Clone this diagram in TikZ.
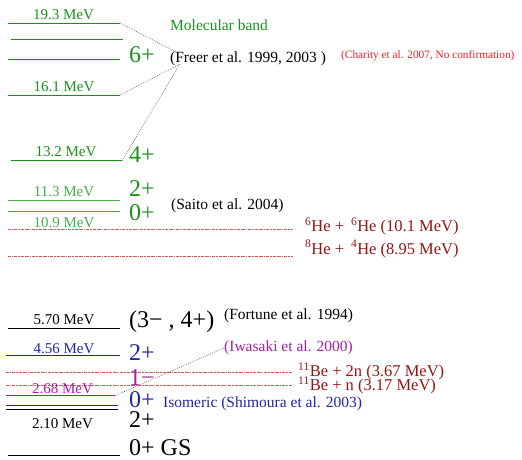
\documentclass[tikz,border=0pt]{standalone}
\usepackage{fontspec}
\setmainfont{Liberation Serif}
\definecolor{gcol}{RGB}{25,145,25}
\definecolor{lgcol}{RGB}{70,175,70}
\definecolor{rline}{RGB}{200,90,90}
\definecolor{rtext}{RGB}{150,20,20}
\definecolor{bred}{RGB}{240,30,30}
\definecolor{bcol}{RGB}{35,35,165}
\definecolor{pcol}{RGB}{165,30,165}
\definecolor{ccol}{RGB}{90,90,90}
\tikzset{
  lvl/.style={line width=1pt},
  mev/.style={font=\fontsize{15}{17}\selectfont, anchor=base, inner sep=0pt},
  spin/.style={font=\fontsize{24}{28}\selectfont, anchor=base west, inner sep=0pt},
  reftxt/.style={font=\fontsize{15.5}{18}\selectfont, anchor=base west, inner sep=0pt},
  react/.style={font=\fontsize{16.5}{19}\selectfont, anchor=base west, inner sep=0pt, text=rtext},
  thr/.style={draw=rline, line width=0.9pt, dash pattern=on 1.5pt off 0.8pt on 0.5pt off 0.8pt},
  conn/.style={draw=ccol, line width=0.6pt, dash pattern=on 0.8pt off 1.2pt}
}
\begin{document}
\begin{tikzpicture}[x=1pt,y=-1pt]
\useasboundingbox (0,0) rectangle (522,459);
% ---- upper band ----
\draw[lvl,gcol] (8,23) coordinate (a1) -- (120,23) coordinate (a2);
\draw[lvl,gcol] (11,39) coordinate (b1) -- (123,39) coordinate (b2);
\draw[lvl,gcol] (8,59) coordinate (c1) -- (120,59) coordinate (c2);
\draw[lvl,gcol] (8,95) coordinate (d1) -- (120,95) coordinate (d2);
\draw[lvl,gcol] (11,160.7) coordinate (e1) -- (122,160.7) coordinate (e2);
\draw[lvl,lgcol] (8,200.7) coordinate (f1) -- (120,200.7) coordinate (f2);
\draw[lvl,lgcol] (8,211.7) coordinate (g1) -- (120,211.7) coordinate (g2);

\node[mev,text=gcol] (m193) at (63.5,19.5) {19.3 MeV};
\node[mev,text=gcol] (m161) at (64,91) {16.1 MeV};
\node[mev,text=gcol] (m132) at (66,156) {13.2 MeV};
\node[mev,text=lgcol] (m113) at (64,196) {11.3 MeV};
\node[mev,text=lgcol] (m109) at (64,227.5) {10.9 MeV};

\node[spin,text=gcol] (s6) at (129,62) {6+};
\node[spin,text=gcol] (s4) at (129,162) {4+};
\node[spin,text=gcol] (s2) at (129,196) {2+};
\node[spin,text=gcol] (s0) at (129,220) {0+};

\node[reftxt,text=gcol] (mol) at (170,30) {Molecular band};
\node[reftxt] (freer) at (170,62) {(Freer et al. 1999, 2003 )};
\node[font=\fontsize{11.3}{13}\selectfont, anchor=base west, inner sep=0pt, text=bred] (charity) at (341,58) {(Charity et al. 2007, No confirmation)};
\node[reftxt] (saito) at (171,209) {(Saito et al. 2004)};

\coordinate (fa) at ([xshift=7pt,yshift=-1.5pt]freer.north west);
\coordinate (fb) at ([xshift=10pt,yshift=1.5pt]freer.south west);
\draw[conn] (a2) -- (fa);
\draw[conn] (d2) -- (fb);
\draw[conn] (fb) -- (e2);

% thresholds
\draw[thr] (8,229.3) coordinate (t1a) -- (293,229.3) coordinate (t1b);
\draw[thr] (8,256.7) coordinate (t2a) -- (293,256.7) coordinate (t2b);
\node[react] (r1) at (305,231.5) {\textsuperscript{6}He + \,\textsuperscript{6}He (10.1 MeV)};
\node[react] (r2) at (305,254) {\textsuperscript{8}He + \,\textsuperscript{4}He (8.95 MeV)};

% ---- lower part ----
\draw[lvl,black] (8,328.3) coordinate (h1) -- (120,328.3) coordinate (h2);
\draw[lvl,bcol] (6,355.7) coordinate (i1) -- (120,355.7) coordinate (i2);
\draw[thr] (6,372.7) coordinate (t3a) -- (292,372.7) coordinate (t3b);
\draw[thr] (6,385) coordinate (t4a) -- (292,385) coordinate (t4b);
\draw[lvl,pcol] (6,395.7) coordinate (j1) -- (115,395.7) coordinate (j2);
\draw[lvl,bcol] (6,405) coordinate (k1) -- (118,405) coordinate (k2);
\draw[lvl,black] (6,409.3) coordinate (l1) -- (118,409.3) coordinate (l2);
\draw[lvl,black] (8,455.7) coordinate (n1) -- (120,455.7) coordinate (n2);

\node[mev] (m570) at (64,324) {5.70 MeV};
\node[mev,text=bcol] (m456) at (64,353) {4.56 MeV};
\node[mev,text=pcol] (m268) at (62.5,393) {2.68 MeV};
\node[mev] (m210) at (62.5,428) {2.10 MeV};

\node[spin] (s34) at (129,327) {(3− , 4+)};
\node[spin,text=bcol] (s2b) at (129,360) {2+};
\node[spin,text=pcol] (s1m) at (129,385) {1−};
\node[spin,text=bcol] (s0b) at (129,407) {0+};
\node[spin] (s2k) at (129,427) {2+};
\node[spin] (sgs) at (129,455.5) {0+ GS};

\node[reftxt] (fortune) at (224,319.3) {(Fortune et al. 1994)};
\node[reftxt,text=pcol] (iwasaki) at (224,351.7) {(Iwasaki et al. 2000)};
\node[reftxt,text=bcol] (shim) at (163,407) {Isomeric (Shimoura et al. 2003)};
\node[react] (r3) at (298,376.5) {\textsuperscript{11}Be + 2n (3.67 MeV)};
\node[react] (r4) at (298,390.5) {\textsuperscript{11}Be + n (3.17 MeV)};

\draw[conn] (j2) -- (iwasaki.west);
\end{tikzpicture}
\end{document}
